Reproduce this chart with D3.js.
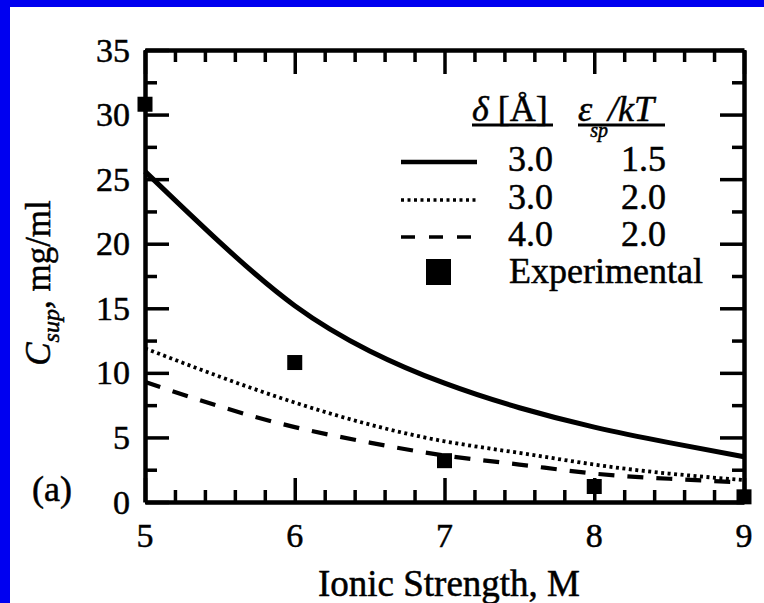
<!DOCTYPE html>
<html>
<head>
  <title>Csup vs ionic strength</title>
  <meta charset="utf8">
  <style type="text/css">
    body { margin: 0; background: #fff; overflow: hidden; }
    svg { display: block; }
    svg text { font-family: 'Liberation Serif', 'Times New Roman', serif; fill: #000; stroke: #000; stroke-width: 0.5px; }
    .axis path, .axis line { stroke: #000; }
  </style>
</head>
<body>

<script src="https://d3js.org/d3.v7.min.js"></script>

<script type="text/javascript">

// ionic strength (M) where the curves were read
var ionic = [5, 5.5, 6, 6.5, 7, 7.5, 8, 8.5, 9]

// model curves, C_sup in mg/ml
var solid15 = [25.6, 20.1, 15.2, 11.7, 9.2, 7.3, 5.8, 4.6, 3.5]
var dotted20 = [11.9, 9.7, 7.7, 6.0, 4.7, 3.8, 2.9, 2.2, 1.7]
var dashed20 = [9.3, 7.4, 5.8, 4.6, 3.6, 2.9, 2.2, 1.8, 1.5]

// experimental points
var expX = [5, 6, 7, 8, 9]
var expY = [30.8, 10.8, 3.2, 1.2, 0.4]

var xTicks = [5, 6, 7, 8, 9]
var yTicks = [0, 5, 10, 15, 20, 25, 30, 35]

var legendDelta = ['3.0', '3.0', '4.0']
var legendEps = ['1.5', '2.0', '2.0']

var W = 764, H = 603
var margin = {left: 145, top: 50, right: 20, bottom: 101}
var w = W - margin.left - margin.right, h = H - margin.top - margin.bottom

var svg = d3.select('body').append('svg')
    .attr('width', W)
    .attr('height', H)

// blue frame strips on top and left
svg.append('rect').attr('width', W).attr('height', H).attr('fill', '#fff')
svg.append('rect').attr('width', W).attr('height', 7).attr('fill', '#0000f0')
svg.append('rect').attr('width', 10).attr('height', H).attr('fill', '#0000f0')

var g = svg.append('g')
    .attr('transform', 'translate(' + [margin.left, margin.top] + ')')

var x = d3.scaleLinear().domain([5, 9]).range([0, w])
var y = d3.scaleLinear().domain([0, 35]).range([h, 0])

var xMinor = d3.range(5, 9.001, 0.2).filter(function(d) { return Math.abs(d - Math.round(d)) > 0.01 })
var yMinor = d3.range(2.5, 35, 5)

function tickAxis(axis, ticks, size) {
  return axis.tickValues(ticks).tickSize(size).tickFormat('')
}

// major + minor ticks on all four sides, pointing inward
var sides = [
  {axis: d3.axisBottom(x), t: 'translate(0,' + h + ')', major: xTicks, minor: xMinor},
  {axis: d3.axisTop(x), t: 'translate(0,0)', major: xTicks, minor: xMinor},
  {axis: d3.axisLeft(y), t: 'translate(0,0)', major: yTicks, minor: yMinor},
  {axis: d3.axisRight(y), t: 'translate(' + w + ',0)', major: yTicks, minor: yMinor}
]

sides.forEach(function(s) {
  var maj = g.append('g').attr('class', 'axis').attr('transform', s.t)
    .call(tickAxis(s.axis, s.major, -24).tickSizeOuter(0))
  maj.selectAll('line').attr('stroke-width', 3.5)
  maj.select('path').attr('stroke-width', 4.5)
  var mn = g.append('g').attr('class', 'axis').attr('transform', s.t)
    .call(tickAxis(s.axis, s.minor, -12).tickSizeOuter(0))
  mn.selectAll('line').attr('stroke-width', 3.5)
  mn.select('path').remove()
})

// tick labels
g.selectAll('.xlab').data(xTicks).enter().append('text')
  .attr('x', function(d) { return x(d) })
  .attr('y', h + 45)
  .attr('text-anchor', 'middle')
  .style('font-size', '34px')
  .text(function(d) { return d })

g.selectAll('.ylab').data(yTicks).enter().append('text')
  .attr('x', -15)
  .attr('y', function(d) { return y(d) })
  .attr('dy', '0.34em')
  .attr('text-anchor', 'end')
  .style('font-size', '34px')
  .text(function(d) { return d })

// axis titles
svg.append('text')
  .attr('x', 449)
  .attr('y', 596)
  .attr('text-anchor', 'middle')
  .style('font-size', '37px')
  .text('Ionic Strength, M')

var yt = svg.append('text')
  .attr('transform', 'translate(50,283) rotate(-90)')
  .attr('text-anchor', 'middle')
  .style('font-size', '35px')
yt.append('tspan').style('font-style', 'italic').text('C')
yt.append('tspan').style('font-style', 'italic').style('font-size', '24px').attr('dy', 9).text('sup')
yt.append('tspan').attr('dy', -9).text(', mg/ml')

svg.append('text')
  .attr('x', 32).attr('y', 501)
  .style('font-size', '36px')
  .text('(a)')

// curves
var line = d3.line()
  .x(function(d) { return x(d[0]) })
  .y(function(d) { return y(d[1]) })
  .curve(d3.curveNatural)

var curves = [
  {vals: solid15, dash: null, width: 5},
  {vals: dotted20, dash: '3,3.5', width: 3.8},
  {vals: dashed20, dash: '16,13', width: 4.2}
]

g.selectAll('.curve').data(curves).enter().append('path')
  .attr('class', 'curve')
  .attr('fill', 'none')
  .attr('stroke', '#000')
  .attr('stroke-width', function(d) { return d.width })
  .attr('stroke-dasharray', function(d) { return d.dash })
  .attr('d', function(d) { return line(d3.zip(ionic, d.vals)) })

// experimental squares
var sq = 15
g.selectAll('.pt').data(d3.zip(expX, expY)).enter().append('rect')
  .attr('x', function(d) { return x(d[0]) - sq / 2 })
  .attr('y', function(d) { return y(d[1]) - sq / 2 })
  .attr('width', sq)
  .attr('height', sq)
  .attr('fill', '#000')

// legend
var leg = svg.append('g')

var h1 = leg.append('text').attr('x', 472).attr('y', 121).style('font-size', '36px')
h1.append('tspan').style('font-style', 'italic').text('δ')
h1.append('tspan').text(' [Å]')
leg.append('line').attr('x1', 472).attr('x2', 553).attr('y1', 125).attr('y2', 125)
  .attr('stroke', '#000').attr('stroke-width', 3)

var h2 = leg.append('text').attr('x', 578).attr('y', 121).style('font-size', '36px').style('font-style', 'italic')
h2.append('tspan').text('ε')
h2.append('tspan').style('font-size', '20px').attr('dx', -2).attr('dy', 16).text('sp')
h2.append('tspan').attr('dy', -16).text('/kT')
leg.append('line').attr('x1', 578).attr('x2', 665).attr('y1', 125).attr('y2', 125)
  .attr('stroke', '#000').attr('stroke-width', 3)

var rowY = [162, 200, 237]
leg.selectAll('.ls').data(curves).enter().append('line')
  .attr('x1', 401).attr('x2', 477)
  .attr('y1', function(d, i) { return rowY[i] })
  .attr('y2', function(d, i) { return rowY[i] })
  .attr('stroke', '#000')
  .attr('stroke-width', function(d) { return d.width - 0.5 })
  .attr('stroke-dasharray', function(d, i) { return i == 2 ? '14,14' : d.dash })

leg.selectAll('.ld').data(legendDelta).enter().append('text')
  .attr('x', 508).attr('y', function(d, i) { return rowY[i] + 9 })
  .style('font-size', '36px')
  .text(function(d) { return d })

leg.selectAll('.le').data(legendEps).enter().append('text')
  .attr('x', 666).attr('y', function(d, i) { return rowY[i] + 9 })
  .attr('text-anchor', 'end')
  .style('font-size', '36px')
  .text(function(d) { return d })

leg.append('rect').attr('x', 426).attr('y', 259).attr('width', 25).attr('height', 26).attr('fill', '#000')
leg.append('text').attr('x', 509).attr('y', 283).style('font-size', '36px').text('Experimental')

</script>

</body>
</html>
